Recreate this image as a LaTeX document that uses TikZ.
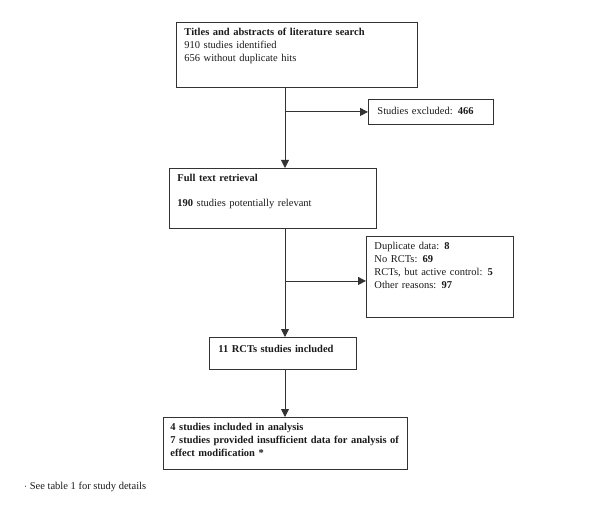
\documentclass[tikz,border=0pt]{standalone}
\usepackage{fontspec}
\setmainfont{Liberation Serif}
\usetikzlibrary{positioning,arrows.meta}
\definecolor{cLine}{HTML}{333333}
\definecolor{cText}{HTML}{1A1A1A}
\tikzset{
  stage/.style={draw=cLine,line width=0.9pt,anchor=north west,align=left,inner xsep=8pt,inner ysep=4pt,text height=9pt,text=cText,font=\fontsize{10.5pt}{13pt}\selectfont},
  flow/.style={-{Triangle[length=8pt,width=8pt]},line width=0.9pt,draw=cLine},
  note/.style={anchor=base west,inner sep=0pt,text=cText,font=\fontsize{10.5pt}{13pt}\selectfont},
}
\begin{document}
\begin{tikzpicture}[x=1pt,y=-1pt]
  \useasboundingbox (0,0) rectangle (600,516);
  \node[stage,text width=225pt,text depth=48pt] (search) at (176,22) {\textbf{Titles and abstracts of literature search}\\910 studies identified\\656 without duplicate hits};
  \node[stage,inner xsep=9pt,inner ysep=6pt,text width=107pt,text depth=4pt] (excl1) at (368,99) {Studies excluded: \textbf{466}};
  \node[stage,text width=191pt,text depth=43pt] (full) at (169,168) {\textbf{Full text retrieval}\\[12pt]\textbf{190} studies potentially relevant};
  \node[stage,text width=131pt,text depth=64pt] (excl2) at (366,236) {Duplicate data: \textbf{8}\\No RCTs: \textbf{69}\\RCTs, but active control: \textbf{5}\\Other reasons: \textbf{97}};
  \node[stage,inner xsep=9pt,inner ysep=6pt,text width=129pt,text depth=11pt] (rcts) at (209,337) {\textbf{11 RCTs studies included}};
  \node[stage,inner xsep=7pt,text width=230pt,text depth=35pt] (final) at (163,417) {\textbf{4 studies included in analysis}\\\textbf{7 studies provided insufficient data for analysis of}\\\textbf{effect modification *}};
  \node[note] (foot) at (24,489) {$\cdot$ See table 1 for study details};
  \coordinate (spine) at (285,0);
  \draw[flow] (search.south -| spine) -- (full.north -| spine);
  \draw[flow] (excl1.west -| spine) -- (excl1.west);
  \draw[flow] (full.south -| spine) -- (rcts.north -| spine);
  \draw[flow] ([yshift=-4pt]excl2.west -| spine) -- ([yshift=-4pt]excl2.west);
  \draw[flow] (rcts.south -| spine) -- (final.north -| spine);
\end{tikzpicture}
\end{document}
